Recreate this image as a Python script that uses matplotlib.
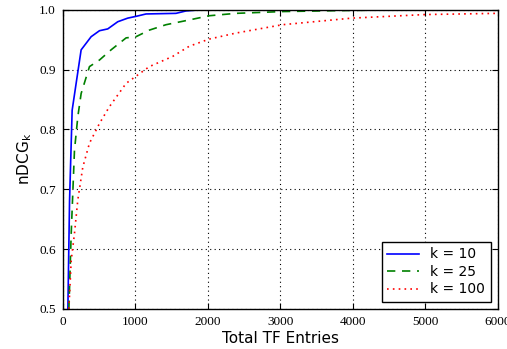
import matplotlib
matplotlib.use("Agg")
import matplotlib.pyplot as plt

# values
x_k10 = [69, 92, 128, 183, 252, 390, 505, 619, 757, 894, 1009, 1147, 1560, 1697, 1900, 3000, 4950]
y_k10 = [0.5, 0.68, 0.832, 0.877, 0.933, 0.955, 0.965, 0.968, 0.980, 0.986, 0.989, 0.993, 0.994, 0.998, 1.0, 1.0, 1.0]

x_k25 = [83, 115, 160, 206, 252, 367, 505, 665, 872, 1009, 1193, 1422, 1743, 2018, 2385, 3028, 4000, 5000]
y_k25 = [0.5, 0.626, 0.765, 0.821, 0.860, 0.905, 0.916, 0.933, 0.953, 0.955, 0.966, 0.975, 0.983, 0.990, 0.994, 0.997, 0.999, 1.0]

x_k100 = [83, 115, 160, 206, 275, 367, 505, 642, 872, 1193, 1514, 1743, 2018, 2385, 2752, 3028, 3982, 4993, 5982]
y_k100 = [0.5, 0.581, 0.626, 0.682, 0.737, 0.777, 0.810, 0.838, 0.877, 0.905, 0.922, 0.939, 0.951, 0.961, 0.969, 0.975, 0.986, 0.992, 0.994]

labels = ["k = 10", "k = 25", "k = 100"]
xticks = [0, 1000, 2000, 3000, 4000, 5000, 6000]
yticks = [0.5, 0.6, 0.7, 0.8, 0.9, 1.0]

fig = plt.figure(figsize=(5.07, 3.49), dpi=100)
ax = fig.add_axes([0.124, 0.115, 0.858, 0.857])

ax.plot(x_k10, y_k10, color="blue", linestyle="-", linewidth=1.2, label=labels[0])
ax.plot(x_k25, y_k25, color="green", linestyle=(0, (5, 4)), linewidth=1.2, label=labels[1])
ax.plot(x_k100, y_k100, color="red", linestyle=(0, (1, 2.5)), linewidth=1.2, label=labels[2])

ax.set_xlim(0, 6000)
ax.set_ylim(0.5, 1.0)
ax.set_xticks(xticks)
ax.set_yticks(yticks)
ax.set_xticklabels([str(t) for t in xticks], family="Liberation Serif", fontsize=9.5)
ax.set_yticklabels(["%.1f" % t for t in yticks], family="Liberation Serif", fontsize=9.5)
ax.tick_params(direction="in", top=True, right=True, length=4, pad=5)
ax.grid(True, color="black", linestyle=(0, (1, 3)), linewidth=0.8)

ax.set_xlabel("Total TF Entries", fontsize=11, labelpad=2)
ax.set_ylabel(r"nDCG$_\mathsf{k}$", fontsize=11, labelpad=4)

leg = ax.legend(loc="lower right", fontsize=10, fancybox=False, framealpha=1,
                edgecolor="black", handlelength=2.3, borderpad=0.4, labelspacing=0.25)
leg.get_frame().set_linewidth(1.0)

for s in ax.spines.values():
    s.set_linewidth(1.0)

fig.savefig("out.png", dpi=100)
